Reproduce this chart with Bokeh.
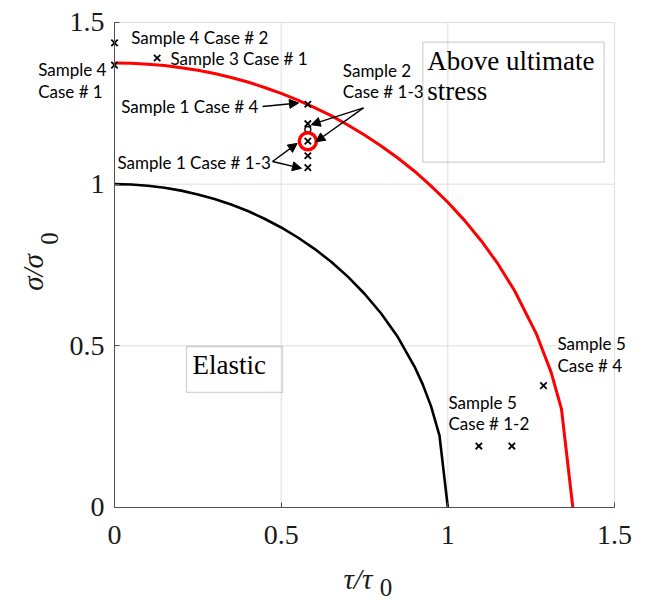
from bokeh.plotting import figure
from bokeh.models import (ColumnDataSource, LabelSet, Label, Arrow, NormalHead,
                          BoxAnnotation, FixedTicker, NumeralTickFormatter)
from bokeh.core.properties import value
from bokeh.embed import file_html
from bokeh.resources import INLINE
import math

# ---- data ----
tau_elastic = [0.0, 0.05, 0.1, 0.15, 0.2, 0.25, 0.3, 0.35, 0.4, 0.45, 0.5, 0.55, 0.6,
               0.65, 0.7, 0.75, 0.8, 0.85, 0.9, 0.925, 0.95, 0.975, 1.0]
sigma_elastic = [1.0, 0.999, 0.995, 0.989, 0.98, 0.968, 0.954, 0.937, 0.917, 0.893,
                 0.866, 0.835, 0.8, 0.76, 0.714, 0.661, 0.6, 0.527, 0.436, 0.38,
                 0.312, 0.222, 0.0]

tau_ultimate = [0.0, 0.05, 0.1, 0.15, 0.2, 0.25, 0.3, 0.35, 0.4, 0.45, 0.5, 0.55, 0.6,
                0.65, 0.7, 0.75, 0.8, 0.85, 0.9, 0.95, 1.0, 1.05, 1.1, 1.15, 1.2,
                1.266, 1.31, 1.341, 1.375]
sigma_ultimate = [1.375, 1.374, 1.371, 1.367, 1.36, 1.352, 1.342, 1.33, 1.316, 1.299,
                  1.281, 1.26, 1.237, 1.212, 1.183, 1.152, 1.118, 1.081, 1.04, 0.994,
                  0.944, 0.888, 0.825, 0.754, 0.671, 0.536, 0.418, 0.304, 0.0]

sample_tau = [0.0, 0.0, 0.128, 0.58, 0.58, 0.58, 0.58, 0.58, 1.287, 1.093, 1.192]
sample_sigma = [1.437, 1.368, 1.39, 1.247, 1.187, 1.133, 1.088, 1.051, 0.377, 0.19, 0.19]

hollow_tau = [0.58]
hollow_sigma = [1.169]
ring_tau = [0.58]
ring_sigma = [1.133]

label_text = ["Sample 4 Case # 2", "Sample 3 Case # 1", "Sample 4", "Case # 1",
              "Sample 1 Case # 4", "Sample 1 Case # 1-3", "Sample 2", "Case # 1-3",
              "Sample 5", "Case # 4", "Sample 5", "Case # 1-2"]
label_x = [0.050, 0.168, -0.229, -0.229, 0.020, 0.009, 0.685, 0.685,
           1.329, 1.329, 1.002, 1.002]
label_y = [1.453, 1.390, 1.3546, 1.2875, 1.240, 1.066, 1.352, 1.287,
           0.5063, 0.4392, 0.326, 0.259]

arrow_x0 = [0.444, 0.474, 0.474, 0.747, 0.747]
arrow_y0 = [1.240, 1.070, 1.070, 1.236, 1.236]
arrow_x1 = [0.552, 0.548, 0.561, 0.590, 0.604]
arrow_y1 = [1.251, 1.126, 1.049, 1.184, 1.131]

tick_values = [0, 0.5, 1, 1.5]
axis_min, axis_max = 0, 1.5

# ---- figure: the frame fills the page, the axes sit at 0 ----
p = figure(width=646, height=603, x_range=(-0.342, 1.596), y_range=(-0.2969, 1.568),
           min_border=0, min_border_left=0, min_border_right=0, min_border_top=0,
           min_border_bottom=0, output_backend="svg", toolbar_location=None,
           background_fill_color="white", border_fill_color="white")
p.outline_line_color = None
p.xgrid.visible = False
p.ygrid.visible = False

for ax in (p.xaxis[0], p.yaxis[0]):
    ax.fixed_location = 0
    ax.bounds = (axis_min, axis_max)
    ax.ticker = FixedTicker(ticks=tick_values)
    ax.formatter = NumeralTickFormatter(format="0.[0]")
    ax.major_label_text_font = "Liberation Serif"
    ax.major_label_text_font_size = "28px"
    ax.major_label_text_color = "#1a1a1a"
    ax.axis_line_color = "#505050"
    ax.major_tick_line_color = "#505050"
    ax.major_tick_in = 5
    ax.major_tick_out = 0
    ax.minor_tick_line_color = None
p.xaxis[0].major_label_standoff = 19
p.yaxis[0].major_label_standoff = 10

# grid lines and box edges at the tick positions
n = len(tick_values)
p.segment(x0=tick_values, y0=[axis_min] * n, x1=tick_values, y1=[axis_max] * n,
          line_color="#dedede", line_width=1, level="underlay")
p.segment(x0=[axis_min] * n, y0=tick_values, x1=[axis_max] * n, y1=tick_values,
          line_color="#dedede", line_width=1, level="underlay")

p.line(tau_elastic, sigma_elastic, line_color="black", line_width=2.6)
p.line(tau_ultimate, sigma_ultimate, line_color="#ff0000", line_width=3)

p.scatter(sample_tau, sample_sigma, marker="x", size=9, line_color="black", line_width=1.8)
p.scatter(hollow_tau, hollow_sigma, marker="circle", size=6, fill_color=None,
          line_color="black", line_width=1.3)
p.scatter(ring_tau, ring_sigma, marker="circle", size=17, fill_color=None,
          line_color="#ff0000", line_width=3.5)

# annotation boxes
p.add_layout(BoxAnnotation(left=0.925, right=1.469, bottom=1.068, top=1.439,
                           fill_color=None, fill_alpha=0, line_color="#6e6e6e",
                           line_width=1.3))
p.add_layout(BoxAnnotation(left=0.216, right=0.504, bottom=0.356, top=0.498,
                           fill_color=None, fill_alpha=0, line_color="#6e6e6e",
                           line_width=1.3))

serif = dict(text_font="Liberation Serif", text_font_size="27px", text_color="black",
             text_baseline="middle", text_align="left")
p.add_layout(Label(x=0.938, y=1.3794, text="Above ultimate", **serif))
p.add_layout(Label(x=0.938, y=1.2866, text="stress", **serif))
p.add_layout(Label(x=0.234, y=0.441, text="Elastic", **serif))

src = ColumnDataSource(dict(x=label_x, y=label_y, t=label_text))
p.add_layout(LabelSet(x="x", y="y", text="t", source=src, text_font=value("Lato"),
                      text_font_size="17px", text_color="black",
                      text_baseline="middle", text_align="left"))

asrc = ColumnDataSource(dict(x0=arrow_x0, y0=arrow_y0, x1=arrow_x1, y1=arrow_y1))
p.add_layout(Arrow(end=NormalHead(size=9, fill_color="black", line_color="black"),
                   x_start="x0", y_start="y0", x_end="x1", y_end="y1", source=asrc,
                   line_color="black", line_width=1.4))

# axis titles
title_kw = dict(text_font="Liberation Serif", text_align="center",
                text_baseline="middle", text_color="#1a1a1a")
p.add_layout(Label(x=0.7302, y=-0.2196, text="τ/τ", text_font_style="italic",
                   text_font_size="29px", **title_kw))
p.add_layout(Label(x=0.8145, y=-0.2474, text="0", text_font_size="25px", **title_kw))
p.add_layout(Label(x=-0.246, y=0.7268, text="σ/σ", text_font_style="italic",
                   text_font_size="29px", angle=math.pi / 2, **title_kw))
p.add_layout(Label(x=-0.196, y=0.832, text="0", text_font_size="25px",
                   angle=math.pi / 2, **title_kw))

open("out.html", "w").write(file_html(p, INLINE))
